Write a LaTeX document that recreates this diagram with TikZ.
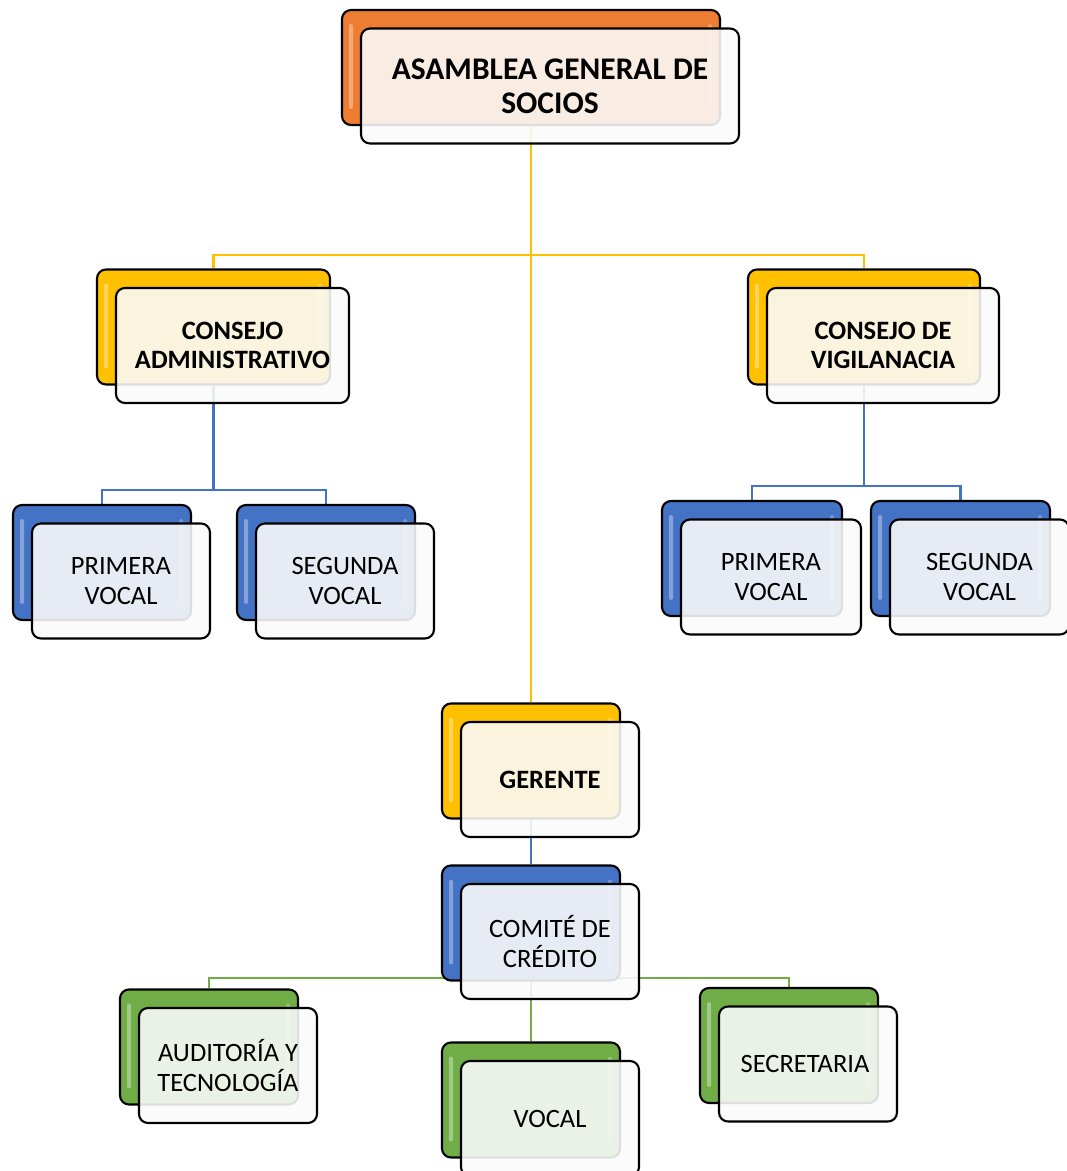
\documentclass[tikz,border=0pt]{standalone}
\usepackage{fontspec}
\setmainfont{Carlito}
\usetikzlibrary{backgrounds}
\definecolor{orangeBox}{RGB}{237,125,49}
\definecolor{yellowBox}{RGB}{255,192,0}
\definecolor{blueBox}{RGB}{68,114,196}
\definecolor{greenBox}{RGB}{112,173,71}

\begin{document}
\begin{tikzpicture}[x=1pt, y=-1pt, line width=2.1pt]

		\useasboundingbox (0,0) rectangle (1067,1171); % page size
		\tikzset {
			styleBack/.style= {
				draw=black, fill=#1, rounded corners=9pt,
				minimum width=178pt, minimum height=115pt, inner sep=0pt,
				path picture={ % light stripe on the left
					\fill[white, opacity=0.35, rounded corners=2pt]
						([shift={(7,14)}]path picture bounding box.north west)
						rectangle ([shift={(11,-16)}]path picture bounding box.south west);
					\fill[white, opacity=0.25, rounded corners=2pt]
						([shift={(-12,14)}]path picture bounding box.north east)
						rectangle ([shift={(-8,-16)}]path picture bounding box.south east);
				}
			},		% colored box behind
			styleFront/.style= {
				draw=black, fill=white!98!black, fill opacity=0.89, text opacity=1,
				rounded corners=9pt, minimum width=178pt, minimum height=115pt,
				inner sep=0pt, align=center
			},		% pale box in front, with the text
			styleLine/.style= {
				draw=#1, line width=2.8pt
			}
		};

		% boxes: name / center x / center y / width / color / font / text
		\foreach
			\boxName/\x/\y/\w/\boxColor/\boxFont/\boxText in {
				asamblea/531/67.5/378/orangeBox/{\bfseries\fontsize{31.5}{34}\selectfont}/{ASAMBLEA GENERAL DE\\SOCIOS},
				consejoAdm/213.5/327/233/yellowBox/{\bfseries\fontsize{26.5}{28.5}\selectfont}/{CONSEJO\\ADMINISTRATIVO},
				consejoVig/864/327/232/yellowBox/{\bfseries\fontsize{26.5}{28.5}\selectfont}/{CONSEJO DE\\VIGILANACIA},
				primeraAdm/102/562.5/178/blueBox/{\fontsize{26.5}{29.5}\selectfont}/{PRIMERA\\VOCAL},
				segundaAdm/326/562.5/178/blueBox/{\fontsize{26.5}{29.5}\selectfont}/{SEGUNDA\\VOCAL},
				primeraVig/752/558.5/180/blueBox/{\fontsize{26.5}{29.5}\selectfont}/{PRIMERA\\VOCAL},
				segundaVig/960.5/558.5/179/blueBox/{\fontsize{26.5}{29.5}\selectfont}/{SEGUNDA\\VOCAL},
				gerente/531/761/178/yellowBox/{\bfseries\fontsize{26.5}{29.5}\selectfont}/{GERENTE},
				comite/531/923/178/blueBox/{\fontsize{26.5}{29.5}\selectfont}/{COMITÉ DE\\CRÉDITO},
				auditoria/209/1047/178/greenBox/{\fontsize{26.5}{29.5}\selectfont}/{AUDITORÍA Y\\TECNOLOGÍA},
				vocal/531/1100/178/greenBox/{\fontsize{26.5}{29.5}\selectfont}/{VOCAL},
				secretaria/789/1045.5/178/greenBox/{\fontsize{26.5}{29.5}\selectfont}/{SECRETARIA} } {
			%colored box
			\node [styleBack=\boxColor, minimum width=\w] (\boxName) at (\x,\y) {};
			%front box, moved down and right
			\node [styleFront, minimum width=\w, font=\boxFont]
				(\boxName Text) at ([shift={(19,18.5)}]\boxName.center) {\boxText};
		}

		%junctions of the connectors
		\coordinate (juncTop) at (531,255);
		\coordinate (juncAdm) at (213.5,490);
		\coordinate (juncVig) at (864,486);
		\coordinate (juncCom) at (531,978);

		%connectors behind the boxes
		\begin{scope}[on background layer]
			\draw[styleLine=yellowBox] (asamblea.south) -- (gerente.north);
			\draw[styleLine=yellowBox] (consejoAdm.north) |- (juncTop) -| (consejoVig.north);
			\draw[styleLine=blueBox] (consejoAdm.south) -- (juncAdm);
			\draw[styleLine=blueBox] (primeraAdm.north) |- (juncAdm) -| (segundaAdm.north);
			\draw[styleLine=blueBox] (consejoVig.south) -- (juncVig);
			\draw[styleLine=blueBox] (primeraVig.north) |- (juncVig) -| (segundaVig.north);
			\draw[styleLine=blueBox] (gerente.south) -- (comite.north);
			\draw[styleLine=greenBox] (auditoria.north) |- (juncCom) -| (secretaria.north);
			\draw[styleLine=greenBox] (comite.south) -- (vocal.north);
		\end{scope}

	\end{tikzpicture}
\end{document}
